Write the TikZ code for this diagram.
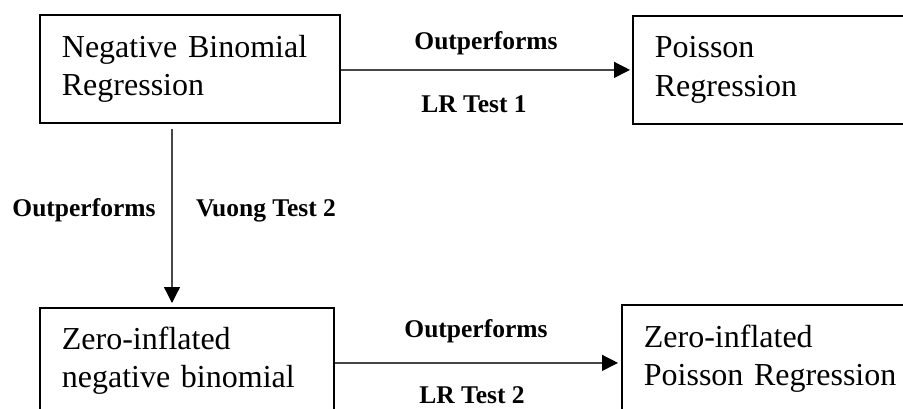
\documentclass[tikz,border=0pt]{standalone}
\usepackage{fontspec}
\setmainfont{Liberation Serif}
\usetikzlibrary{arrows.meta,calc}
\begin{document}
\begin{tikzpicture}[x=1pt,y=-1pt,
  model/.style={draw=black, line width=1.8pt, anchor=north west,
    inner xsep=22pt, inner ysep=0pt, align=left,
    font=\fontsize{32}{38.5}\selectfont},
  link/.style={draw=black!72, line width=1.3pt,
    -{Triangle[length=16pt,width=16pt,color=black]}},
  lbl/.style={font=\fontsize{25.5}{30}\selectfont\bfseries, anchor=base, inner sep=0pt}]
\useasboundingbox (0,0) rectangle (903,409);
\clip (0,0) rectangle (903,409);

% model boxes
\node[model, minimum width=300pt, minimum height=108pt, text width=256pt]
  (nb) at (39,14) {Negative Binomial\\Regression};
\node[model, minimum width=300pt, minimum height=108pt, text width=256pt]
  (pr) at (632,15) {Poisson\\Regression};
\node[model, minimum width=294pt, minimum height=106pt, text width=250pt]
  (zinb) at (39,307) {Zero-inflated\\negative binomial};
\node[model, minimum width=300pt, minimum height=108pt, text width=256pt]
  (zip) at (621,304) {Zero-inflated\\Poisson Regression};

% comparisons
\draw[link] ($(nb.east)+(0,1)$) -- ($(nb.east -| pr.west)+(-2,1)$);
\draw[link] ($(nb.south west)+(133,5)$) -- ($(zinb.north west)+(133,-4)$);
\draw[link] ($(zinb.east)+(0,2)$) -- ($(zinb.east -| zip.west)+(-3,2)$);

% test labels
\node[lbl] (o1) at (486,50) {Outperforms};
\node[lbl] (t1) at (474,113) {LR Test 1};
\node[lbl] (o2) at (84,217) {Outperforms};
\node[lbl] (t2) at (266,217) {Vuong Test 2};
\node[lbl] (o3) at (476,337) {Outperforms};
\node[lbl] (t3) at (472,403) {LR Test 2};
\end{tikzpicture}
\end{document}
